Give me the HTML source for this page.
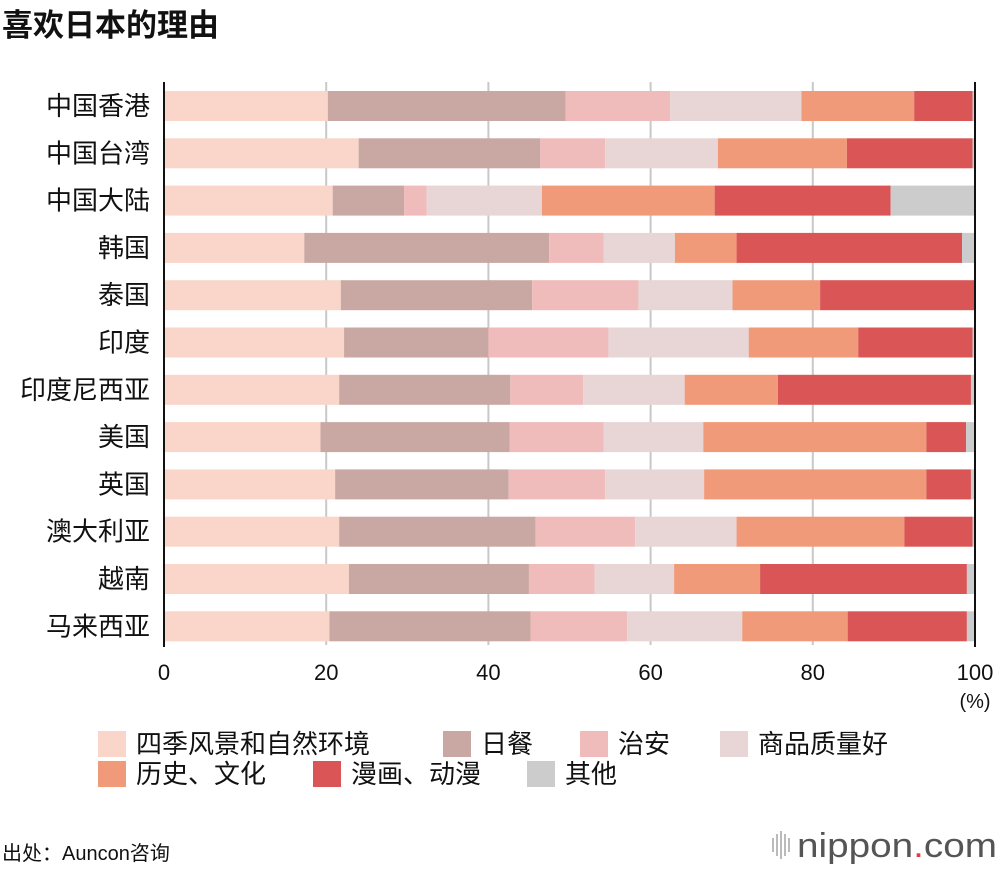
<!DOCTYPE html>
<html><head><meta charset="utf-8"><style>
body{margin:0;background:#fff;width:1000px;height:870px;overflow:hidden;font-family:"Liberation Sans","Noto Sans CJK SC",sans-serif;}
</style></head><body>
<svg id="chart" width="1000" height="870" xmlns="http://www.w3.org/2000/svg" font-family="Liberation Sans, Noto Sans CJK SC, sans-serif">
<text x="2" y="36" font-size="31" font-weight="bold" fill="#111">喜欢日本的理由</text>
<g id="grid"></g><g id="bars"></g><g id="axes"></g><g id="legend"></g>
<text x="2" y="860" font-size="20" fill="#111">出处：Auncon咨询</text>
<g>
<g fill="#bbb"><rect x="772" y="838" width="2" height="14"/><rect x="776" y="834" width="2" height="22"/><rect x="780" y="831" width="2" height="28"/><rect x="784" y="834" width="2" height="22"/><rect x="788" y="838" width="2" height="14"/></g>
<text x="797" y="857" font-size="34" fill="#555" textLength="200" lengthAdjust="spacingAndGlyphs">nippon<tspan fill="#e63946">.</tspan>com</text></g>
</svg>
<script>
const categories=["中国香港","中国台湾","中国大陆","韩国","泰国","印度","印度尼西亚","美国","英国","澳大利亚","越南","马来西亚"];
const seriesNames=["四季风景和自然环境","日餐","治安","商品质量好","历史、文化","漫画、动漫","其他"];
const scenery=[20.2,24.0,20.8,17.3,21.8,22.2,21.6,19.3,21.1,21.6,22.8,20.4];
const food=[29.3,22.4,8.8,30.2,23.6,17.8,21.1,23.3,21.4,24.2,22.2,24.8];
const safety=[12.9,8.0,2.8,6.7,13.1,14.8,9.0,11.6,11.9,12.3,8.1,11.9];
const quality=[16.2,13.9,14.2,8.8,11.6,17.3,12.5,12.3,12.2,12.5,9.8,14.2];
const history=[13.9,15.9,21.3,7.6,10.8,13.5,11.5,27.5,27.4,20.7,10.6,13.0];
const anime=[7.2,15.5,21.7,27.8,19.0,14.1,23.8,4.9,5.5,8.4,25.5,14.7];
const other=[0.3,0.3,10.4,1.6,0.1,0.3,0.5,1.1,0.5,0.3,1.0,1.0];
const xTicks=[0,20,40,60,80,100];
const series=[scenery,food,safety,quality,history,anime,other];
const colors=["#f9d6c9","#c9a8a3","#efbbbb","#e8d5d5","#f19a79","#d95556","#cccccc"];
const NS="http://www.w3.org/2000/svg";
const x0=164,x1=975,yTop=82,yBot=645;
const xs=v=>x0+(x1-x0)*v/100;
const ys=i=>106+i*47.3;
function mk(t,a,p){const e=document.createElementNS(NS,t);for(const k in a)e.setAttribute(k,a[k]);p.appendChild(e);return e;}
const G=document.getElementById('grid'),B=document.getElementById('bars'),A=document.getElementById('axes'),L=document.getElementById('legend');
xTicks.forEach(t=>{
 if(t>0&&t<100){const l=mk('line',{x1:xs(t),x2:xs(t),y1:yTop,y2:yBot,stroke:'#c8c8c8','stroke-width':2},G);
 
 }
 const tx=mk('text',{x:xs(t),y:680,'font-size':22,'text-anchor':'middle',fill:'#111'},A);tx.textContent=t;
 
 
});
const pc=mk('text',{x:x1,y:708,'font-size':20,'text-anchor':'middle',fill:'#111'},A);pc.textContent='(%)';


categories.forEach((c,i)=>{
 let acc=0;
 series.forEach((s,j)=>{const v=s[i];
  const r=mk('rect',{x:xs(acc),y:ys(i)-15,width:xs(acc+v)-xs(acc),height:30,fill:colors[j]},B);
  
  
  acc+=v;});
 const t=mk('text',{x:150,y:ys(i)+9,'font-size':26,'text-anchor':'end',fill:'#111'},A);t.textContent=c;
 
 
});
[x0,x1].forEach((x,k)=>{const l=mk('line',{x1:x,x2:x,y1:yTop,y2:yBot+2,stroke:'#111','stroke-width':2},A);
 
 });
const lp=[[98,743],[443,743],[580,743],[720,743],[98,773],[313,773],[527,773]];
seriesNames.forEach((n,j)=>{const [x,y]=lp[j];
 const g=mk('g',{},L);
 
 
 mk('rect',{x:x,y:y-12,width:28,height:26,fill:colors[j]},g);
 const t=mk('text',{x:x+38,y:y+10,'font-size':26,fill:'#111'},g);t.textContent=n;});
</script>
</body></html>
